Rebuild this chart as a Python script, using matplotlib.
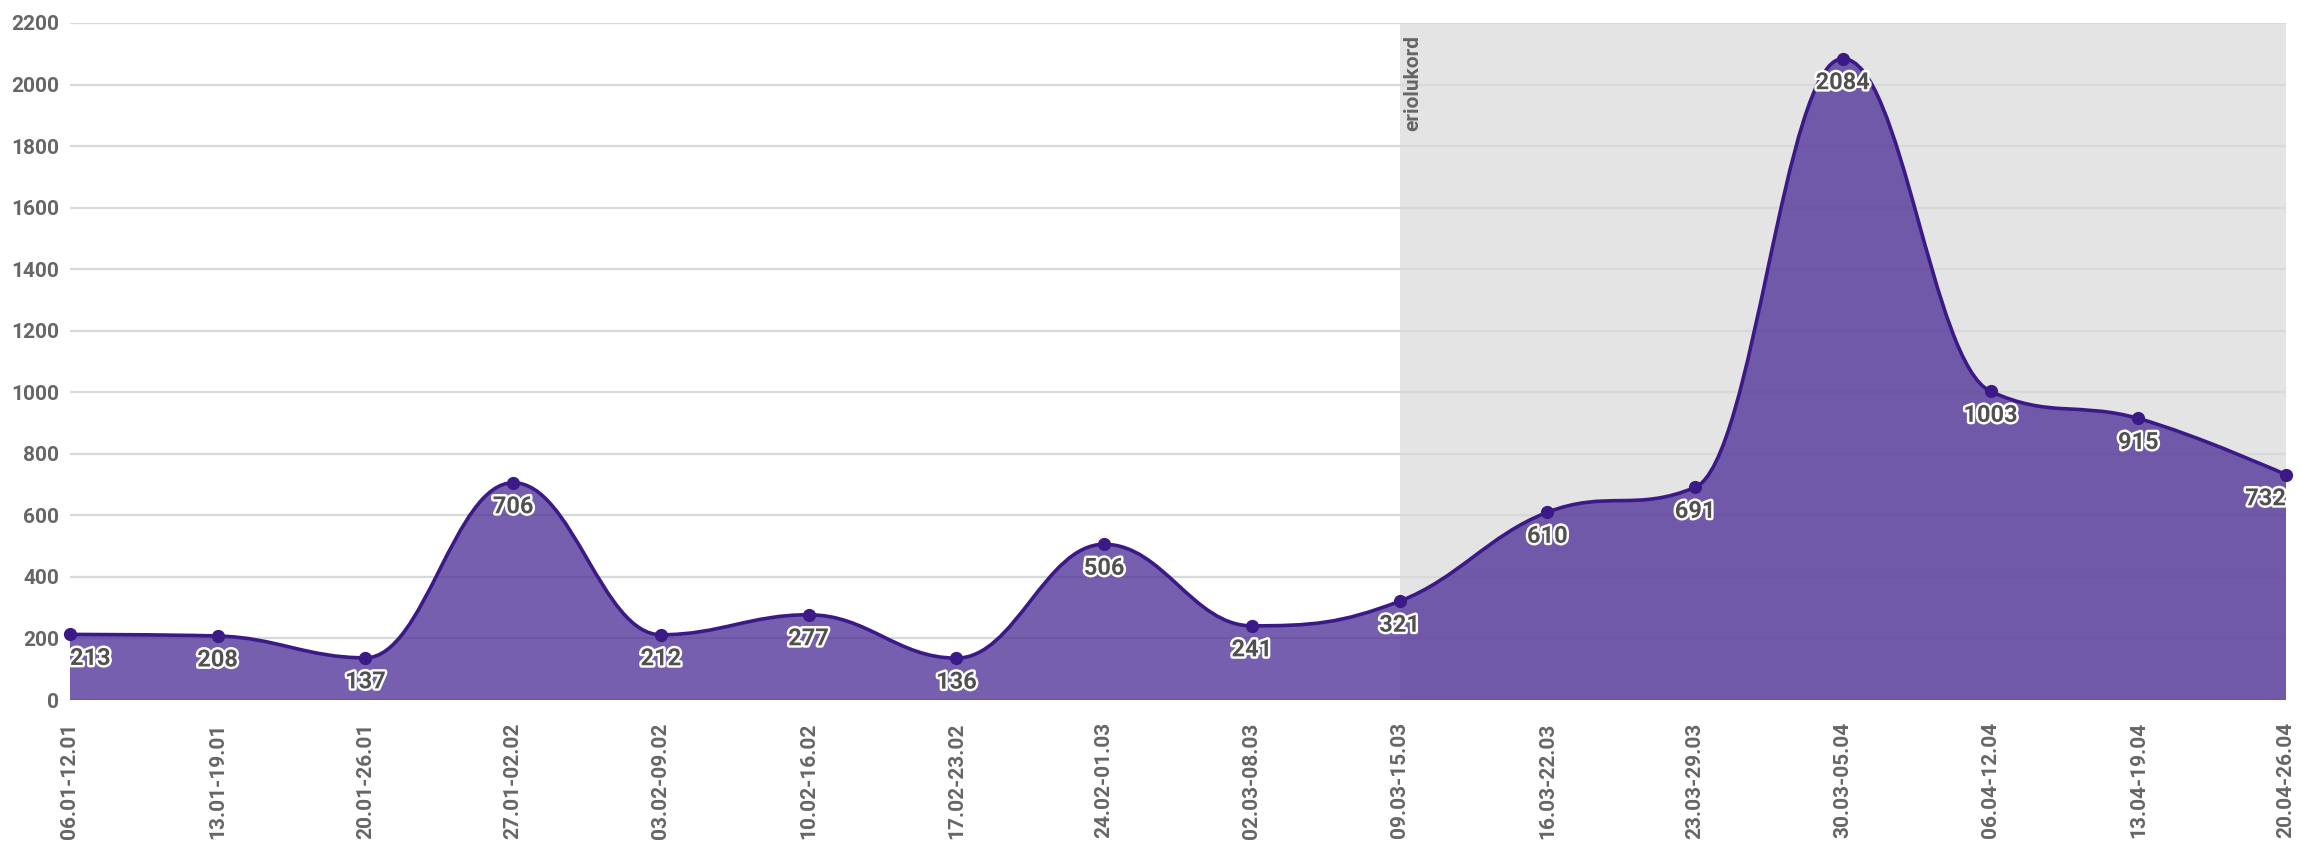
import numpy as np
import matplotlib
matplotlib.use("Agg")
import matplotlib.pyplot as plt
from matplotlib.path import Path
from matplotlib.patches import PathPatch
import matplotlib.patheffects as pe

plt.rcParams['font.family'] = ['Roboto', 'DejaVu Sans']

# andmed
weeks = ["06.01-12.01", "13.01-19.01", "20.01-26.01", "27.01-02.02", "03.02-09.02",
         "10.02-16.02", "17.02-23.02", "24.02-01.03", "02.03-08.03", "09.03-15.03",
         "16.03-22.03", "23.03-29.03", "30.03-05.04", "06.04-12.04", "13.04-19.04",
         "20.04-26.04"]
values = [213, 208, 137, 706, 212, 277, 136, 506, 241, 321, 610, 691, 2084, 1003, 915, 732]
y_ticks = [0, 200, 400, 600, 800, 1000, 1200, 1400, 1600, 1800, 2000, 2200]
band_label = "eriolukord"
band_start = "09.03-15.03"

LINE = "#3b1a88"
FILL = "#4a2a94"
TXT = "#666666"


def spline_path(xs, ys, smoothing=1.5):
    """Highcharts-laadne spline: tagastab Bezier tipud ja koodid"""
    denom = smoothing + 1
    n = len(xs)
    left = [(xs[i], ys[i]) for i in range(n)]
    right = [(xs[i], ys[i]) for i in range(n)]
    for i in range(1, n - 1):
        px, py = xs[i], ys[i]
        lx, ly = xs[i - 1], ys[i - 1]
        nx, ny = xs[i + 1], ys[i + 1]
        lcx = (smoothing * px + lx) / denom
        lcy = (smoothing * py + ly) / denom
        rcx = (smoothing * px + nx) / denom
        rcy = (smoothing * py + ny) / denom
        corr = ((rcy - lcy) * (rcx - px)) / (rcx - lcx) + py - rcy
        lcy += corr
        rcy += corr
        if lcy > ly and lcy > py:
            lcy = max(ly, py)
            rcy = 2 * py - lcy
        elif lcy < ly and lcy < py:
            lcy = min(ly, py)
            rcy = 2 * py - lcy
        if rcy > ny and rcy > py:
            rcy = max(ny, py)
            lcy = 2 * py - rcy
        elif rcy < ny and rcy < py:
            rcy = min(ny, py)
            lcy = 2 * py - rcy
        left[i] = (lcx, lcy)
        right[i] = (rcx, rcy)
    verts = [(xs[0], ys[0])]
    codes = [Path.MOVETO]
    for i in range(1, n):
        verts += [right[i - 1], left[i], (xs[i], ys[i])]
        codes += [Path.CURVE4] * 3
    return verts, codes


x = np.arange(len(weeks))
y = np.array(values, dtype=float)

fig = plt.figure(figsize=(23, 8.42), dpi=100)
ax = fig.add_axes([70 / 2300, 1 - 700 / 842, (2286 - 70) / 2300, (700 - 23) / 842])

# eriolukorra taust
b0 = weeks.index(band_start)
ax.axvspan(b0, len(weeks) - 1, ymin=0, ymax=1, color="#e4e4e4", zorder=0, lw=0)
ax.text(b0 + 0.09, 2160, band_label, rotation=90, ha="center", va="top",
        fontsize=15, fontweight="bold", color=TXT, zorder=5)

# ruudustik
for t in y_ticks:
    ax.axhline(t, color="#d9d9d9", lw=1.6, zorder=1)

# joon ja täidetud ala
verts, codes = spline_path(x, y)
ax.add_patch(PathPatch(Path(verts, codes), fill=False, edgecolor=LINE, lw=2.6, zorder=4))
area_v = verts + [(x[-1], 0), (x[0], 0), (x[0], y[0])]
area_c = codes + [Path.LINETO, Path.LINETO, Path.CLOSEPOLY]
ax.add_patch(PathPatch(Path(area_v, area_c), facecolor=FILL, edgecolor="none", alpha=0.75, zorder=3))
ax.plot(x, y, "o", color=LINE, markersize=8.5, zorder=5, clip_on=False)

# väärtuste sildid
for i, v in enumerate(values):
    ha = "center"
    if i == 0:
        ha = "left"
    elif i == len(values) - 1:
        ha = "right"
    ax.annotate(str(v), (x[i], v), xytext=(0, -9), textcoords="offset points",
                ha=ha, va="top", fontsize=17, fontweight="bold", color="#505050", zorder=6,
                path_effects=[pe.withStroke(linewidth=3.5, foreground="white")])

ax.set_xlim(0, len(weeks) - 1)
ax.set_ylim(0, 2200)
ax.set_yticks(y_ticks)
ax.set_xticks(x)
ax.set_xticklabels(weeks, rotation=90, va="top", ha="center")
ax.tick_params(axis="both", length=0, labelsize=15, labelcolor=TXT)
ax.tick_params(axis="y", pad=8)
ax.tick_params(axis="x", pad=16)
for lab in ax.get_xticklabels() + ax.get_yticklabels():
    lab.set_fontweight("bold")
for s in ax.spines.values():
    s.set_visible(False)

fig.savefig("out.png", dpi=100, facecolor="white")
